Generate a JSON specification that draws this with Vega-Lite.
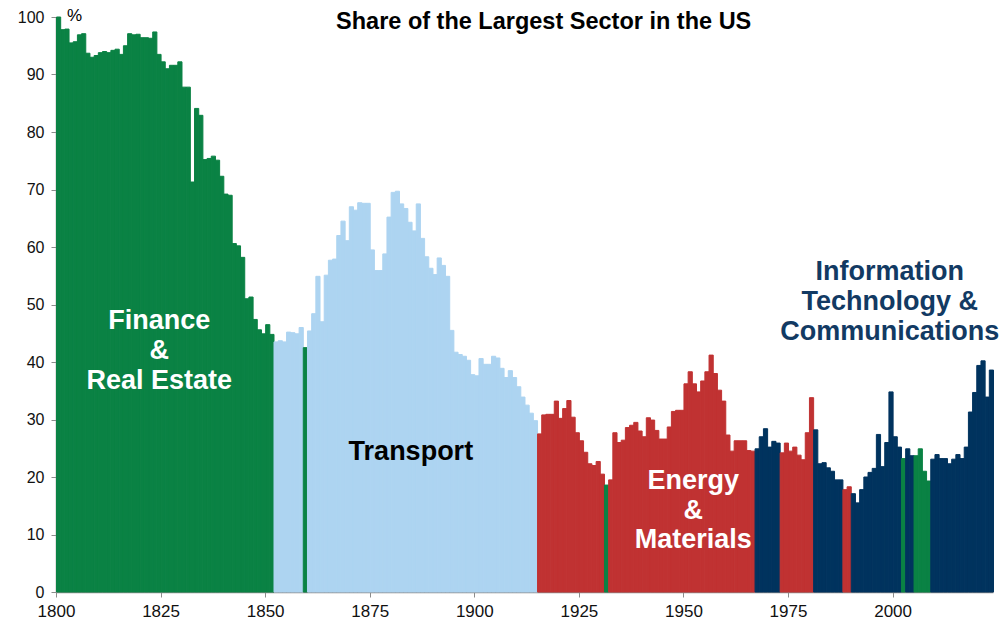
{
  "$schema": "https://vega.github.io/schema/vega-lite/v6.json",
  "width": 937,
  "height": 575,
  "autosize": {"type": "none"},
  "padding": {"left": 56, "top": 17, "right": 9, "bottom": 38},
  "background": "white",
  "config": {"view": {"stroke": null}, "font": "Liberation Sans"},
  "datasets": {
    "shares": [
      {"year":"1800","share":100,"sector":"Finance & Real Estate"},
      {"year":"1801","share":97.8,"sector":"Finance & Real Estate"},
      {"year":"1802","share":97.9,"sector":"Finance & Real Estate"},
      {"year":"1803","share":95.5,"sector":"Finance & Real Estate"},
      {"year":"1804","share":95.7,"sector":"Finance & Real Estate"},
      {"year":"1805","share":96.9,"sector":"Finance & Real Estate"},
      {"year":"1806","share":97.1,"sector":"Finance & Real Estate"},
      {"year":"1807","share":93.7,"sector":"Finance & Real Estate"},
      {"year":"1808","share":93.0,"sector":"Finance & Real Estate"},
      {"year":"1809","share":93.3,"sector":"Finance & Real Estate"},
      {"year":"1810","share":93.8,"sector":"Finance & Real Estate"},
      {"year":"1811","share":94.0,"sector":"Finance & Real Estate"},
      {"year":"1812","share":93.8,"sector":"Finance & Real Estate"},
      {"year":"1813","share":94.2,"sector":"Finance & Real Estate"},
      {"year":"1814","share":94.4,"sector":"Finance & Real Estate"},
      {"year":"1815","share":93.5,"sector":"Finance & Real Estate"},
      {"year":"1816","share":95.0,"sector":"Finance & Real Estate"},
      {"year":"1817","share":97.1,"sector":"Finance & Real Estate"},
      {"year":"1818","share":96.9,"sector":"Finance & Real Estate"},
      {"year":"1819","share":97.0,"sector":"Finance & Real Estate"},
      {"year":"1820","share":96.4,"sector":"Finance & Real Estate"},
      {"year":"1821","share":96.4,"sector":"Finance & Real Estate"},
      {"year":"1822","share":96.3,"sector":"Finance & Real Estate"},
      {"year":"1823","share":97.4,"sector":"Finance & Real Estate"},
      {"year":"1824","share":93.5,"sector":"Finance & Real Estate"},
      {"year":"1825","share":92.2,"sector":"Finance & Real Estate"},
      {"year":"1826","share":91.0,"sector":"Finance & Real Estate"},
      {"year":"1827","share":91.6,"sector":"Finance & Real Estate"},
      {"year":"1828","share":91.6,"sector":"Finance & Real Estate"},
      {"year":"1829","share":92.2,"sector":"Finance & Real Estate"},
      {"year":"1830","share":87.8,"sector":"Finance & Real Estate"},
      {"year":"1831","share":87.8,"sector":"Finance & Real Estate"},
      {"year":"1832","share":71.3,"sector":"Finance & Real Estate"},
      {"year":"1833","share":84.1,"sector":"Finance & Real Estate"},
      {"year":"1834","share":82.9,"sector":"Finance & Real Estate"},
      {"year":"1835","share":75.2,"sector":"Finance & Real Estate"},
      {"year":"1836","share":75.4,"sector":"Finance & Real Estate"},
      {"year":"1837","share":75.8,"sector":"Finance & Real Estate"},
      {"year":"1838","share":75.1,"sector":"Finance & Real Estate"},
      {"year":"1839","share":72.3,"sector":"Finance & Real Estate"},
      {"year":"1840","share":69.2,"sector":"Finance & Real Estate"},
      {"year":"1841","share":69.0,"sector":"Finance & Real Estate"},
      {"year":"1842","share":60.6,"sector":"Finance & Real Estate"},
      {"year":"1843","share":60.2,"sector":"Finance & Real Estate"},
      {"year":"1844","share":58.2,"sector":"Finance & Real Estate"},
      {"year":"1845","share":51.0,"sector":"Finance & Real Estate"},
      {"year":"1846","share":51.3,"sector":"Finance & Real Estate"},
      {"year":"1847","share":47.4,"sector":"Finance & Real Estate"},
      {"year":"1848","share":45.6,"sector":"Finance & Real Estate"},
      {"year":"1849","share":44.9,"sector":"Finance & Real Estate"},
      {"year":"1850","share":46.5,"sector":"Finance & Real Estate"},
      {"year":"1851","share":44.8,"sector":"Finance & Real Estate"},
      {"year":"1852","share":43.5,"sector":"Transport"},
      {"year":"1853","share":43.7,"sector":"Transport"},
      {"year":"1854","share":43.5,"sector":"Transport"},
      {"year":"1855","share":45.2,"sector":"Transport"},
      {"year":"1856","share":45.1,"sector":"Transport"},
      {"year":"1857","share":44.9,"sector":"Transport"},
      {"year":"1858","share":46.0,"sector":"Transport"},
      {"year":"1859","share":42.5,"sector":"Finance & Real Estate"},
      {"year":"1860","share":45.4,"sector":"Transport"},
      {"year":"1861","share":48.4,"sector":"Transport"},
      {"year":"1862","share":54.9,"sector":"Transport"},
      {"year":"1863","share":47.0,"sector":"Transport"},
      {"year":"1864","share":55.1,"sector":"Transport"},
      {"year":"1865","share":57.7,"sector":"Transport"},
      {"year":"1866","share":57.9,"sector":"Transport"},
      {"year":"1867","share":62.0,"sector":"Transport"},
      {"year":"1868","share":64.5,"sector":"Transport"},
      {"year":"1869","share":61.1,"sector":"Transport"},
      {"year":"1870","share":67.0,"sector":"Transport"},
      {"year":"1871","share":66.4,"sector":"Transport"},
      {"year":"1872","share":67.7,"sector":"Transport"},
      {"year":"1873","share":67.6,"sector":"Transport"},
      {"year":"1874","share":67.6,"sector":"Transport"},
      {"year":"1875","share":59.5,"sector":"Transport"},
      {"year":"1876","share":55.9,"sector":"Transport"},
      {"year":"1877","share":55.9,"sector":"Transport"},
      {"year":"1878","share":58.8,"sector":"Transport"},
      {"year":"1879","share":65.2,"sector":"Transport"},
      {"year":"1880","share":69.5,"sector":"Transport"},
      {"year":"1881","share":69.7,"sector":"Transport"},
      {"year":"1882","share":67.5,"sector":"Transport"},
      {"year":"1883","share":66.7,"sector":"Transport"},
      {"year":"1884","share":64.3,"sector":"Transport"},
      {"year":"1885","share":62.8,"sector":"Transport"},
      {"year":"1886","share":67.5,"sector":"Transport"},
      {"year":"1887","share":61.5,"sector":"Transport"},
      {"year":"1888","share":58.3,"sector":"Transport"},
      {"year":"1889","share":56.3,"sector":"Transport"},
      {"year":"1890","share":55.2,"sector":"Transport"},
      {"year":"1891","share":58.1,"sector":"Transport"},
      {"year":"1892","share":56.8,"sector":"Transport"},
      {"year":"1893","share":54.9,"sector":"Transport"},
      {"year":"1894","share":45.5,"sector":"Transport"},
      {"year":"1895","share":41.7,"sector":"Transport"},
      {"year":"1896","share":41.3,"sector":"Transport"},
      {"year":"1897","share":41.0,"sector":"Transport"},
      {"year":"1898","share":40.3,"sector":"Transport"},
      {"year":"1899","share":37.8,"sector":"Transport"},
      {"year":"1900","share":37.6,"sector":"Transport"},
      {"year":"1901","share":40.6,"sector":"Transport"},
      {"year":"1902","share":39.6,"sector":"Transport"},
      {"year":"1903","share":39.6,"sector":"Transport"},
      {"year":"1904","share":41.0,"sector":"Transport"},
      {"year":"1905","share":40.7,"sector":"Transport"},
      {"year":"1906","share":38.9,"sector":"Transport"},
      {"year":"1907","share":37.3,"sector":"Transport"},
      {"year":"1908","share":38.5,"sector":"Transport"},
      {"year":"1909","share":37.3,"sector":"Transport"},
      {"year":"1910","share":35.7,"sector":"Transport"},
      {"year":"1911","share":33.9,"sector":"Transport"},
      {"year":"1912","share":32.5,"sector":"Transport"},
      {"year":"1913","share":31.1,"sector":"Transport"},
      {"year":"1914","share":29.8,"sector":"Transport"},
      {"year":"1915","share":27.5,"sector":"Energy & Materials"},
      {"year":"1916","share":30.8,"sector":"Energy & Materials"},
      {"year":"1917","share":30.9,"sector":"Energy & Materials"},
      {"year":"1918","share":30.9,"sector":"Energy & Materials"},
      {"year":"1919","share":33.2,"sector":"Energy & Materials"},
      {"year":"1920","share":30.2,"sector":"Energy & Materials"},
      {"year":"1921","share":31.9,"sector":"Energy & Materials"},
      {"year":"1922","share":33.3,"sector":"Energy & Materials"},
      {"year":"1923","share":30.4,"sector":"Energy & Materials"},
      {"year":"1924","share":27.7,"sector":"Energy & Materials"},
      {"year":"1925","share":26.3,"sector":"Energy & Materials"},
      {"year":"1926","share":24.3,"sector":"Energy & Materials"},
      {"year":"1927","share":22.3,"sector":"Energy & Materials"},
      {"year":"1928","share":22.0,"sector":"Energy & Materials"},
      {"year":"1929","share":22.7,"sector":"Energy & Materials"},
      {"year":"1930","share":20.5,"sector":"Energy & Materials"},
      {"year":"1931","share":18.6,"sector":"Finance & Real Estate"},
      {"year":"1932","share":19.5,"sector":"Energy & Materials"},
      {"year":"1933","share":27.7,"sector":"Energy & Materials"},
      {"year":"1934","share":26.0,"sector":"Energy & Materials"},
      {"year":"1935","share":26.4,"sector":"Energy & Materials"},
      {"year":"1936","share":28.6,"sector":"Energy & Materials"},
      {"year":"1937","share":29.0,"sector":"Energy & Materials"},
      {"year":"1938","share":29.5,"sector":"Energy & Materials"},
      {"year":"1939","share":28.0,"sector":"Energy & Materials"},
      {"year":"1940","share":27.0,"sector":"Energy & Materials"},
      {"year":"1941","share":30.3,"sector":"Energy & Materials"},
      {"year":"1942","share":29.9,"sector":"Energy & Materials"},
      {"year":"1943","share":28.1,"sector":"Energy & Materials"},
      {"year":"1944","share":26.6,"sector":"Energy & Materials"},
      {"year":"1945","share":26.6,"sector":"Energy & Materials"},
      {"year":"1946","share":28.7,"sector":"Energy & Materials"},
      {"year":"1947","share":31.4,"sector":"Energy & Materials"},
      {"year":"1948","share":31.6,"sector":"Energy & Materials"},
      {"year":"1949","share":31.6,"sector":"Energy & Materials"},
      {"year":"1950","share":36.2,"sector":"Energy & Materials"},
      {"year":"1951","share":38.3,"sector":"Energy & Materials"},
      {"year":"1952","share":36.2,"sector":"Energy & Materials"},
      {"year":"1953","share":34.8,"sector":"Energy & Materials"},
      {"year":"1954","share":36.7,"sector":"Energy & Materials"},
      {"year":"1955","share":38.3,"sector":"Energy & Materials"},
      {"year":"1956","share":41.2,"sector":"Energy & Materials"},
      {"year":"1957","share":38.0,"sector":"Energy & Materials"},
      {"year":"1958","share":35.1,"sector":"Energy & Materials"},
      {"year":"1959","share":33.2,"sector":"Energy & Materials"},
      {"year":"1960","share":27.3,"sector":"Energy & Materials"},
      {"year":"1961","share":24.5,"sector":"Energy & Materials"},
      {"year":"1962","share":26.3,"sector":"Energy & Materials"},
      {"year":"1963","share":26.3,"sector":"Energy & Materials"},
      {"year":"1964","share":26.3,"sector":"Energy & Materials"},
      {"year":"1965","share":24.6,"sector":"Energy & Materials"},
      {"year":"1966","share":24.5,"sector":"Energy & Materials"},
      {"year":"1967","share":24.9,"sector":"Information Technology & Communications"},
      {"year":"1968","share":27.0,"sector":"Information Technology & Communications"},
      {"year":"1969","share":28.4,"sector":"Information Technology & Communications"},
      {"year":"1970","share":25.2,"sector":"Information Technology & Communications"},
      {"year":"1971","share":26.2,"sector":"Information Technology & Communications"},
      {"year":"1972","share":25.9,"sector":"Information Technology & Communications"},
      {"year":"1973","share":24.2,"sector":"Energy & Materials"},
      {"year":"1974","share":25.9,"sector":"Energy & Materials"},
      {"year":"1975","share":24.5,"sector":"Energy & Materials"},
      {"year":"1976","share":25.2,"sector":"Energy & Materials"},
      {"year":"1977","share":23.8,"sector":"Energy & Materials"},
      {"year":"1978","share":23.0,"sector":"Energy & Materials"},
      {"year":"1979","share":27.7,"sector":"Energy & Materials"},
      {"year":"1980","share":33.8,"sector":"Energy & Materials"},
      {"year":"1981","share":28.2,"sector":"Information Technology & Communications"},
      {"year":"1982","share":22.3,"sector":"Information Technology & Communications"},
      {"year":"1983","share":22.5,"sector":"Information Technology & Communications"},
      {"year":"1984","share":21.6,"sector":"Information Technology & Communications"},
      {"year":"1985","share":21.0,"sector":"Information Technology & Communications"},
      {"year":"1986","share":19.5,"sector":"Information Technology & Communications"},
      {"year":"1987","share":19.5,"sector":"Information Technology & Communications"},
      {"year":"1988","share":17.8,"sector":"Energy & Materials"},
      {"year":"1989","share":18.3,"sector":"Energy & Materials"},
      {"year":"1990","share":17.1,"sector":"Information Technology & Communications"},
      {"year":"1991","share":15.5,"sector":"Information Technology & Communications"},
      {"year":"1992","share":17.8,"sector":"Information Technology & Communications"},
      {"year":"1993","share":20.0,"sector":"Information Technology & Communications"},
      {"year":"1994","share":20.8,"sector":"Information Technology & Communications"},
      {"year":"1995","share":21.5,"sector":"Information Technology & Communications"},
      {"year":"1996","share":27.4,"sector":"Information Technology & Communications"},
      {"year":"1997","share":21.8,"sector":"Information Technology & Communications"},
      {"year":"1998","share":26.0,"sector":"Information Technology & Communications"},
      {"year":"1999","share":34.8,"sector":"Information Technology & Communications"},
      {"year":"2000","share":27.0,"sector":"Information Technology & Communications"},
      {"year":"2001","share":25.2,"sector":"Information Technology & Communications"},
      {"year":"2002","share":23.2,"sector":"Finance & Real Estate"},
      {"year":"2003","share":24.9,"sector":"Information Technology & Communications"},
      {"year":"2004","share":23.7,"sector":"Information Technology & Communications"},
      {"year":"2005","share":23.7,"sector":"Finance & Real Estate"},
      {"year":"2006","share":24.9,"sector":"Finance & Real Estate"},
      {"year":"2007","share":21.0,"sector":"Finance & Real Estate"},
      {"year":"2008","share":19.3,"sector":"Finance & Real Estate"},
      {"year":"2009","share":23.1,"sector":"Information Technology & Communications"},
      {"year":"2010","share":23.9,"sector":"Information Technology & Communications"},
      {"year":"2011","share":23.2,"sector":"Information Technology & Communications"},
      {"year":"2012","share":23.2,"sector":"Information Technology & Communications"},
      {"year":"2013","share":22.3,"sector":"Information Technology & Communications"},
      {"year":"2014","share":23.1,"sector":"Information Technology & Communications"},
      {"year":"2015","share":23.9,"sector":"Information Technology & Communications"},
      {"year":"2016","share":23.2,"sector":"Information Technology & Communications"},
      {"year":"2017","share":25.2,"sector":"Information Technology & Communications"},
      {"year":"2018","share":31.3,"sector":"Information Technology & Communications"},
      {"year":"2019","share":34.7,"sector":"Information Technology & Communications"},
      {"year":"2020","share":39.4,"sector":"Information Technology & Communications"},
      {"year":"2021","share":40.2,"sector":"Information Technology & Communications"},
      {"year":"2022","share":33.9,"sector":"Information Technology & Communications"},
      {"year":"2023","share":38.6,"sector":"Information Technology & Communications"}
    ]
  },
  "layer": [
    {
      "data": {"name": "shares"},
      "mark": {"type": "bar", "binSpacing": 0, "strokeWidth": 1},
      "encoding": {
        "x": {
          "field": "year", "type": "temporal", "timeUnit": "utcyear",
          "scale": {"type": "utc", "domain": [{"year": 1800, "utc": true}, {"year": 2024, "utc": true}]},
          "axis": {
            "title": null,
            "values": [{"year": 1800, "utc": true}, {"year": 1825, "utc": true}, {"year": 1850, "utc": true}, {"year": 1875, "utc": true}, {"year": 1900, "utc": true}, {"year": 1925, "utc": true}, {"year": 1950, "utc": true}, {"year": 1975, "utc": true}, {"year": 2000, "utc": true}],
            "format": "%Y", "formatType": "utc",
            "grid": false, "domainColor": "#8c8c8c", "domainWidth": 1.5, "tickColor": "#8c8c8c", "tickSize": 5,
            "labelFontSize": 17, "labelColor": "#111111", "labelPadding": 6, "labelFont": "Liberation Sans",
            "labelFlush": false, "labelOverlap": false
          }
        },
        "y": {
          "field": "share", "type": "quantitative",
          "scale": {"domain": [0, 100], "nice": false},
          "axis": {
            "title": null, "values": [0,10,20,30,40,50,60,70,80,90,100],
            "grid": false, "domainColor": "#8c8c8c", "domainWidth": 1.5, "tickColor": "#8c8c8c", "tickSize": 5,
            "labelFontSize": 16, "labelColor": "#111111", "labelPadding": 7, "labelFont": "Liberation Sans"
          }
        },
        "color": {
          "field": "sector", "type": "nominal", "legend": null,
          "scale": {
            "domain": ["Finance & Real Estate", "Transport", "Energy & Materials", "Information Technology & Communications"],
            "range": ["#0a8244", "#add4f1", "#c03232", "#00335e"]
          }
        },
        "stroke": {
          "field": "sector", "type": "nominal", "legend": null,
          "scale": {
            "domain": ["Finance & Real Estate", "Transport", "Energy & Materials", "Information Technology & Communications"],
            "range": ["#0a8244", "#add4f1", "#c03232", "#00335e"]
          }
        }
      }
    },
    {
      "data": {"values": [{}]},
      "mark": {"type": "text", "font": "Liberation Sans", "fontSize": 17, "color": "#000000", "baseline": "middle", "align": "center"},
      "encoding": {
        "x": {"datum": {"year": 1804, "month": 6, "date": 10, "utc": true}, "type": "temporal"},
        "y": {"datum": 100.2, "type": "quantitative"},
        "text": {"value": "%"}
      }
    },
    {
      "data": {"values": [{}]},
      "mark": {"type": "text", "font": "Liberation Sans", "fontSize": 23.5, "fontWeight": "bold", "color": "#000000", "baseline": "middle", "align": "center"},
      "encoding": {
        "x": {"datum": {"year": 1916, "month": 8, "utc": true}, "type": "temporal"},
        "y": {"datum": 99.2, "type": "quantitative"},
        "text": {"value": "Share of the Largest Sector in the US"}
      }
    },
    {
      "data": {"values": [{}]},
      "mark": {"type": "text", "font": "Liberation Sans", "fontSize": 27, "fontWeight": "bold", "color": "#ffffff", "baseline": "middle", "align": "center", "lineHeight": 30},
      "encoding": {
        "x": {"datum": {"year": 1824, "month": 9, "utc": true}, "type": "temporal"},
        "y": {"datum": 47.1, "type": "quantitative"},
        "text": {"value": ["Finance", "&", "Real Estate"]}
      }
    },
    {
      "data": {"values": [{}]},
      "mark": {"type": "text", "font": "Liberation Sans", "fontSize": 27, "fontWeight": "bold", "color": "#000000", "baseline": "middle", "align": "center"},
      "encoding": {
        "x": {"datum": {"year": 1884, "month": 11, "utc": true}, "type": "temporal"},
        "y": {"datum": 24.3, "type": "quantitative"},
        "text": {"value": "Transport"}
      }
    },
    {
      "data": {"values": [{}]},
      "mark": {"type": "text", "font": "Liberation Sans", "fontSize": 27, "fontWeight": "bold", "color": "#ffffff", "baseline": "middle", "align": "center", "lineHeight": 29.5},
      "encoding": {
        "x": {"datum": {"year": 1952, "month": 5, "utc": true}, "type": "temporal"},
        "y": {"datum": 19.3, "type": "quantitative"},
        "text": {"value": ["Energy", "&", "Materials"]}
      }
    },
    {
      "data": {"values": [{}]},
      "mark": {"type": "text", "font": "Liberation Sans", "fontSize": 27, "fontWeight": "bold", "color": "#123a63", "baseline": "middle", "align": "center", "lineHeight": 30},
      "encoding": {
        "x": {"datum": {"year": 1999, "month": 5, "utc": true}, "type": "temporal"},
        "y": {"datum": 55.6, "type": "quantitative"},
        "text": {"value": ["Information", "Technology &", "Communications"]}
      }
    }
  ]
}
